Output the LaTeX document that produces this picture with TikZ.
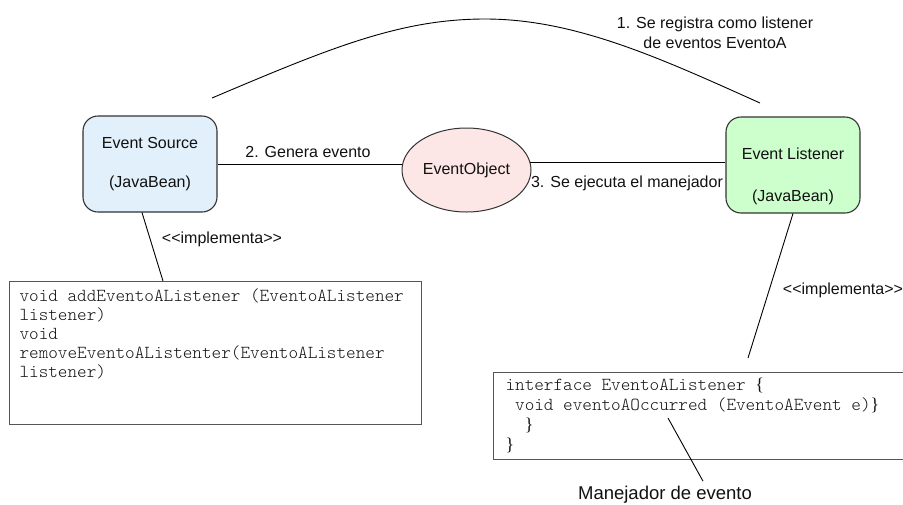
\documentclass[tikz,border=0pt]{standalone}
\usepackage{fontspec}
\setmainfont{Liberation Serif}
\setsansfont{Liberation Sans}
\newfontfamily\codefont{lmmonolt10-regular.otf}
\usetikzlibrary{shapes.geometric}

\definecolor{srcfill}{HTML}{E1F0FB}
\definecolor{lstfill}{HTML}{CCFFCC}
\definecolor{objfill}{HTML}{FCE6E6}
\definecolor{beanedge}{HTML}{333333}
\definecolor{codeedge}{HTML}{555555}
\definecolor{ink}{HTML}{111111}

% serif brace used inside the code listings
\newcommand{\obrace}{{\rmfamily\fontsize{18}{20}\selectfont\{}}
\newcommand{\cbrace}{{\rmfamily\fontsize{18}{20}\selectfont\}}}

\begin{document}
\begin{tikzpicture}[x=1pt,y=-1pt,
  lbl/.style={font=\sffamily\fontsize{16}{20}\selectfont,text=ink,inner sep=0pt},
  bean/.style={draw=beanedge,line width=1.1pt,rounded corners=15pt,
    minimum width=134pt,minimum height=96pt,inner sep=0pt,
    font=\sffamily\fontsize{16}{18}\selectfont,text=ink,align=center},
  evobj/.style={ellipse,draw=beanedge,line width=1pt,fill=objfill,
    minimum width=129pt,minimum height=84pt,inner sep=0pt,
    font=\sffamily\fontsize{16}{18}\selectfont,text=ink},
  codebox/.style={draw=codeedge,line width=1.1pt,anchor=north west,
    font=\codefont\fontsize{18.3}{19}\selectfont,text=ink},
  link/.style={draw=black,line width=0.9pt}
]
\useasboundingbox (0,0) rectangle (903,504);

% the two JavaBeans and the event object
\node[bean,fill=srcfill] (src) at (150,164)
  {Event Source\\[21pt](JavaBean)};
\node[bean,fill=lstfill,
  label={[lbl,align=center,yshift=-11pt,font=\sffamily\fontsize{16}{18}\selectfont]center:Event Listener\\[24pt](JavaBean)}]
  (lst) at (793,165) {};
\node[evobj] (obj) at (466.5,170) {EventObject};

% source-side listing
\node[codebox,inner xsep=10pt,inner ysep=7pt] (code1) at (9,281)
  {\begin{minipage}[t][129pt][t]{392pt}\raggedright
   \strut void addEventoAListener (EventoAListener\\
   \strut listener)\\
   \strut void\\
   \strut removeEventoAListenter(EventoAListener\\
   \strut listener)
   \end{minipage}};

% listener interface listing (runs past the right edge)
\node[codebox,font=\codefont\fontsize{18.3}{20}\selectfont,inner xsep=12pt,inner ysep=4pt] (code2) at (493,372)
  {\begin{minipage}[t][79pt][t]{400pt}\raggedright
   \strut interface EventoAListener \obrace\\
   \strut\hphantom{x}void eventoAOccurred (EventoAEvent e)\cbrace\\
   \strut\hphantom{xx}\cbrace\\
   \strut\cbrace
   \end{minipage}};

% labels
\node[lbl,align=center] (reg) at (715,33) {1. Se registra como listener\\de eventos EventoA};
\node[lbl] (gen) at (308,152) {2. Genera evento};
\node[lbl] (eje) at (627,183) {3. Se ejecuta el manejador};
\node[lbl] (impl1) at (222,239) {<{}<implementa>{}>};
\node[lbl] (impl2) at (843,290) {<{}<implementa>{}>};
\node[lbl,font=\sffamily\fontsize{18.5}{22}\selectfont] (man) at (665,495) {Manejador de evento};

% free ends of the connectors
\coordinate (regA) at (212,98);
\coordinate (regB) at (760,103);
\coordinate (lstEnd) at (748,358);
\coordinate (manStart) at (668,418);

% registration arc
\draw[link] (regA) .. controls (330,48) and (400,19) .. (485,19)
                   .. controls (575,19) and (660,58) .. (regB);

% event flow
\draw[link] (src.east) -- (src.east -| obj.west);
\draw[link] (obj.7) -- (obj.7 -| lst.west);

% implementation links
\draw[link] ([xshift=-8pt]src.south) -- ([xshift=154pt]code1.north west);
\draw[link] (lst.south) -- (lstEnd);
\draw[link] (manStart) -- ([xshift=38pt,yshift=5pt]man.north);
\end{tikzpicture}
\end{document}
